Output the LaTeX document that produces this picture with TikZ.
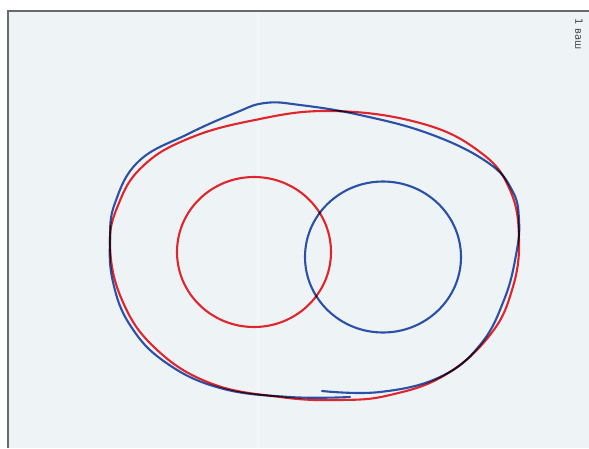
\documentclass[tikz,border=0pt]{standalone}
\usepackage{fontspec}
\newfontfamily\handfont{DejaVu Sans}
\definecolor{paper}{HTML}{EEF3F5}
\definecolor{penred}{HTML}{E0262C}
\definecolor{penblue}{HTML}{2B50A8}
\definecolor{framegray}{HTML}{6A6A6A}
\begin{document}
\begin{tikzpicture}[x=1pt,y=-1pt,
  ink/.style={line width=2.1pt, line cap=round, line join=round},
  redink/.style={ink, draw=penred},
  blueink/.style={ink, draw=penblue}]
\useasboundingbox (0,0) rectangle (589,448);
\fill[white] (0,0) rectangle (589,448);
\fill[paper] (8,11) rectangle (589,448);
\fill[white, opacity=0.3] (256,11) rectangle (260,448);
\draw[framegray, line width=1.6pt] (8,448) -- (8,11) -- (589,11);
\begin{scope}[blend group=multiply]
  % outer red loop
  \draw[redink] plot[smooth cycle, tension=0.7] coordinates {
    (330,111) (420,123) (480,152) (510,190) (519,240) (512,290) (490,335)
    (445,375) (390,395) (340,400) (280,397) (210,383) (155,348) (122,300)
    (110,245) (119,203) (142,167) (185,140) (250,121)};
  % outer blue loop (open, overlapping at the bottom)
  \draw[blueink] plot[smooth, tension=0.7] coordinates {
    (322,391) (380,392) (440,377) (480,345) (504,300) (516,255) (519,220)
    (512,190) (487,162) (430,134) (360,115) (300,105) (265,103) (235,113)
    (188,134) (139,161) (115,203) (110,240) (113,282) (130,325) (165,362)
    (220,388) (290,397) (350,397)};
  % inner circles
  \draw[redink] (254,252) ellipse [x radius=77, y radius=75];
  \draw[blueink] (383,257) ellipse [x radius=78, y radius=75.5];
\end{scope}
\node[rotate=-90, font=\handfont\fontsize{10}{10}\selectfont, text=black!75, inner sep=0pt] (note) at (579,34) {1 ваш};
\end{tikzpicture}
\end{document}
